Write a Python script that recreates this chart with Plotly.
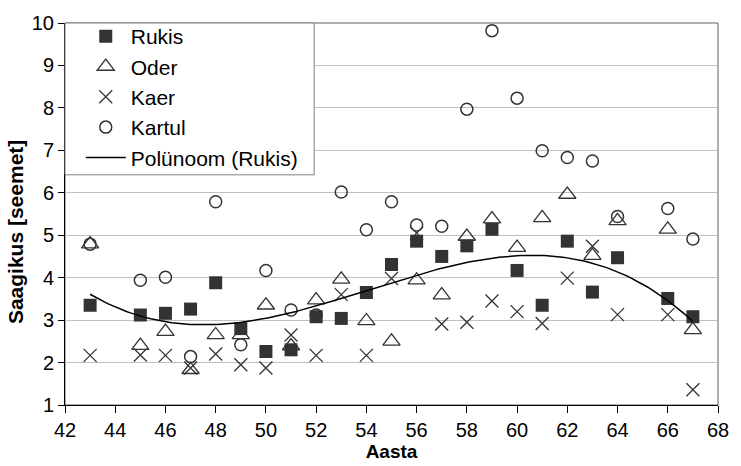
import numpy as np
import plotly.graph_objects as go

# Harvest yield (seeds per seed sown) by year
aastad = [43, 45, 46, 47, 48, 49, 50, 51, 52, 53, 54, 55, 56, 57, 58, 59, 60, 61, 62, 63, 64, 66, 67]
rukis = [3.35, 3.12, 3.16, 3.26, 3.88, 2.80, 2.26, 2.30, 3.08, 3.04, 3.65, 4.31, 4.86, 4.50, 4.75,
         5.14, 4.17, 3.35, 4.86, 3.66, 4.47, 3.51, 3.08]
oder = [4.79, 2.40, 2.73, 1.83, 2.65, 2.65, 3.35, 2.39, 3.47, 3.96, 2.98, 2.50, 3.94, 3.59, 4.97,
        5.38, 4.71, 5.41, 5.96, 4.52, 5.34, 5.14, 2.77]
kaer = [2.17, 2.18, 2.17, 1.87, 2.20, 1.95, 1.87, 2.65, 2.17, 3.60, 2.17, 3.98, 5.05, 2.91, 2.95,
        3.45, 3.20, 2.92, 3.99, 4.74, 3.13, 3.13, 1.36]
kartul = [4.79, 3.94, 4.01, 2.14, 5.79, 2.42, 4.17, 3.24, 3.12, 6.02, 5.13, 5.79, 5.24, 5.21, 7.97,
          9.82, 8.23, 6.99, 6.83, 6.75, 5.44, 5.63, 4.91]

x_ticks = list(range(42, 69, 2))
y_ticks = list(range(1, 11))

# Polynomial (3rd order) trendline fitted to the rye series
coef = np.polyfit(aastad, rukis, 3)
trend_x = np.linspace(min(aastad), max(aastad), 200)
trend_y = np.polyval(coef, trend_x)

mark_col = "#333333"
font = "Liberation Sans, Arial, sans-serif"

W, H = 741, 466
ML, MR, MT, MB = 65, 13, 22, 59
PW, PH = W - ML - MR, H - MT - MB

fig = go.Figure()
fig.add_trace(go.Scatter(
    x=aastad, y=oder, mode="markers", name="Oder", legendgroup="b", legendrank=2,
    marker=dict(symbol="triangle-up-open", size=15, color=mark_col, line=dict(width=1.3)),
))
fig.add_trace(go.Scatter(
    x=aastad, y=kaer, mode="markers", name="Kaer", legendgroup="c", legendrank=3,
    marker=dict(symbol="x-thin-open", size=13, color=mark_col, line=dict(width=1.3, color=mark_col)),
))
fig.add_trace(go.Scatter(
    x=aastad, y=kartul, mode="markers", name="Kartul", legendgroup="d", legendrank=4,
    marker=dict(symbol="circle-open", size=12, color=mark_col, line=dict(width=1.5)),
))
fig.add_trace(go.Scatter(
    x=aastad, y=rukis, mode="markers", name="Rukis", legendgroup="a", legendrank=1,
    marker=dict(symbol="square", size=13, color=mark_col, line=dict(width=0)),
))
fig.add_trace(go.Scatter(
    x=trend_x, y=trend_y, mode="lines", name="Polünoom (Rukis)", legendgroup="e", legendrank=5,
    line=dict(color="black", width=1.5),
))

# legend frame (white box with grey border in the upper-left corner of the plot)
leg_box = dict(type="rect", xref="paper", yref="paper",
               x0=0, x1=(318 - ML) / PW, y0=(MT + PH - 175) / PH, y1=1,
               fillcolor="white", line=dict(color="#808080", width=1), layer="above")
frame = dict(type="rect", xref="paper", yref="paper", x0=0, y0=0, x1=1, y1=1,
             line=dict(color="#606060", width=1), layer="below")

fig.update_layout(
    width=W, height=H,
    margin=dict(l=ML, r=MR, t=MT, b=MB),
    paper_bgcolor="white", plot_bgcolor="white",
    font=dict(family=font, size=20, color="black"),
    showlegend=True,
    legend=dict(
        x=16 / PW, y=1 + 7 / PH, xanchor="left", yanchor="top",
        bgcolor="rgba(0,0,0,0)", borderwidth=0,
        tracegroupgap=0, itemwidth=40,
        font=dict(family=font, size=21, color="black"),
    ),
    shapes=[frame, leg_box],
    annotations=[dict(
        text="<b>Saagikus [seemet]</b>", textangle=-90, showarrow=False,
        xref="paper", yref="paper", x=-50 / PW, y=(MT + PH - 233) / PH,
        xanchor="center", yanchor="middle", font=dict(family=font, size=21),
    )],
)
fig.update_xaxes(
    range=[42, 68], tickvals=x_ticks, ticks="outside", ticklen=7, tickcolor="black",
    showline=True, linecolor="black", linewidth=1, showgrid=False, zeroline=False,
    title=dict(text="<b>Aasta</b>", standoff=0, font=dict(size=19)),
    tickfont=dict(size=20),
)
fig.update_yaxes(
    range=[1, 10], tickvals=y_ticks, ticks="outside", ticklen=6, tickcolor="black",
    showline=True, linecolor="black", linewidth=1, showgrid=True, gridcolor="#c0c0c0",
    zeroline=False, tickfont=dict(size=20),
)

fig.write_html("out.html")
